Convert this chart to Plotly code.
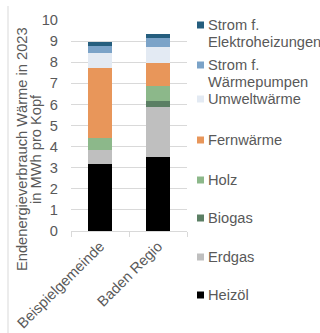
import plotly.graph_objects as go

# Categories and stacked heat-consumption shares (MWh per capita, 2023)
categories = ["Beispielgemeinde", "Baden Regio"]

heizoel = [3.16, 3.52]
erdgas = [0.68, 2.34]
biogas = [0.0, 0.30]
holz = [0.58, 0.71]
fernwaerme = [3.31, 1.08]
umweltwaerme = [0.72, 0.78]
strom_wp = [0.33, 0.40]
strom_elektro = [0.18, 0.19]

y_title_lines = ["Endenergieverbrauch Wärme in 2023", "in MWh pro Kopf"]

# (legend label lines, values, colour) from bottom of the stack to top
series = [
    (["Heizöl"], heizoel, "#000000"),
    (["Erdgas"], erdgas, "#BFBFBF"),
    (["Biogas"], biogas, "#5B7F64"),
    (["Holz"], holz, "#8CB88A"),
    (["Fernwärme"], fernwaerme, "#E8965A"),
    (["Umweltwärme"], umweltwaerme, "#E3EAF3"),
    (["Strom f.", "Wärmepumpen"], strom_wp, "#7BA3C8"),
    (["Strom f.", "Elektroheizungen"], strom_elektro, "#255E7E"),
]

text_col = "#595959"
grid_col = "#D9D9D9"
font_family = "Liberation Sans, Arial, sans-serif"
fs = 14.67

W, H = 320, 333
L, R, T, B = 71, 133, 20, 102
PW, PH = W - L - R, H - T - B


def px_x(x):
    return (x - L) / PW


def px_y(y):
    return (H - B - y) / PH


fig = go.Figure()
for lines, vals, col in series:
    fig.add_trace(go.Bar(
        x=categories, y=vals, name=" ".join(lines),
        marker=dict(color=col, line=dict(width=0)),
        showlegend=False,
    ))

annotations = []
shapes = []

# Legend: one swatch + label per series, top entry first
legend_first_line = [295, 257, 218, 180, 140, 99, 65, 25]
line_step = 17
for (lines, _, col), y0 in zip(series, legend_first_line):
    shapes.append(dict(
        type="rect", xref="paper", yref="paper",
        x0=px_x(197), x1=px_x(204),
        y0=px_y(y0 - 3.5), y1=px_y(y0 + 3.5),
        fillcolor=col, line=dict(width=0),
    ))
    for k, txt in enumerate(lines):
        annotations.append(dict(
            text=txt, xref="paper", yref="paper",
            x=px_x(206), y=px_y(y0 + k * line_step),
            xanchor="left", yanchor="middle", showarrow=False,
            font=dict(size=fs, color=text_col, family=font_family),
        ))

# Axis title, two rotated lines
for txt, xc in zip(y_title_lines, [22, 36]):
    annotations.append(dict(
        text=txt, xref="paper", yref="paper",
        x=px_x(xc), y=px_y(149),
        xanchor="center", yanchor="middle", textangle=-90, showarrow=False,
        font=dict(size=fs, color=text_col, family=font_family),
    ))

# Chart-area border on the left
shapes.append(dict(
    type="line", xref="paper", yref="paper",
    x0=px_x(8), x1=px_x(8), y0=px_y(6), y1=px_y(333),
    line=dict(color=grid_col, width=1),
))

fig.update_layout(
    width=W, height=H,
    margin=dict(l=L, r=R, t=T, b=B, autoexpand=False),
    barmode="stack",
    bargap=0.586,
    plot_bgcolor="white",
    paper_bgcolor="white",
    font=dict(family=font_family, size=fs, color=text_col),
    showlegend=False,
    xaxis=dict(
        automargin=False,
        tickangle=-45,
        showline=True, linecolor=grid_col, linewidth=1,
        ticks="outside", tickson="boundaries", ticklen=5, tickcolor=grid_col,
        tickfont=dict(size=fs, color=text_col),
    ),
    yaxis=dict(
        automargin=False,
        range=[0, 10], dtick=1,
        showgrid=True, gridcolor=grid_col, gridwidth=1,
        zeroline=False, showline=False,
        tickfont=dict(size=fs, color=text_col),
        ticklabelstandoff=12,
    ),
    annotations=annotations,
    shapes=shapes,
)

fig.write_html("out.html")
